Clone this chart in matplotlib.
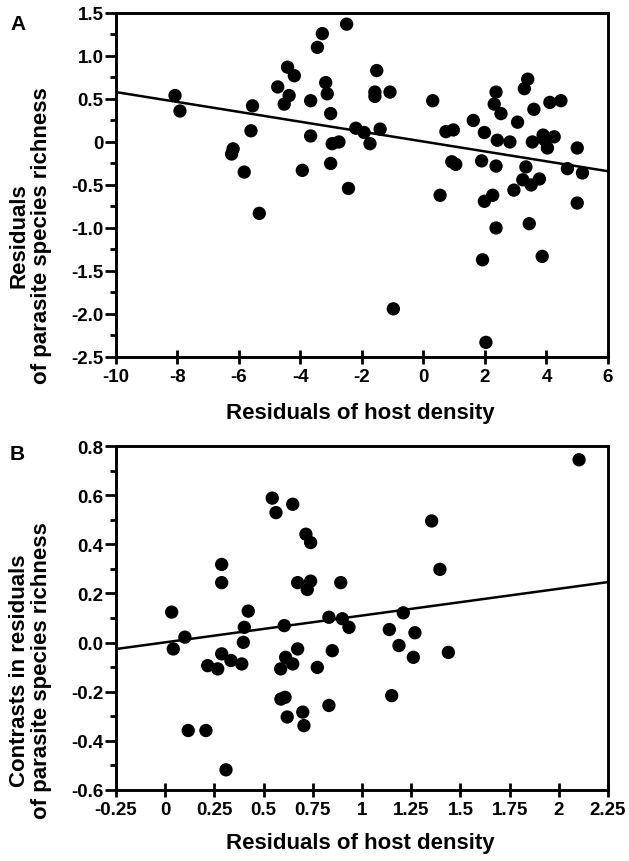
import matplotlib
matplotlib.use('Agg')
import matplotlib.pyplot as plt
from matplotlib.ticker import MultipleLocator
import numpy as np

plt.rcParams['font.family'] = ['Liberation Sans', 'DejaVu Sans']
plt.rcParams['font.weight'] = 'bold'
plt.rcParams['axes.unicode_minus'] = False

# panel A: residuals of host density vs residuals of parasite species richness
a_x = [-8.08, -7.92, -5.56, -5.61, -6.19, -6.24, -5.83, -4.74, -4.42, -4.20,
       -4.37, -4.53, -3.67, -3.67, -3.94, -3.45, -3.29, -2.50, -3.18, -3.13,
       -3.02, -2.97, -2.75, -3.02, -2.44, -2.20, -1.93, -1.74, -1.52, -1.58,
       -1.58, -1.09, 0.30, -1.41, 0.73, 0.97, 0.92, 1.05, 1.62, 1.98,
       2.36, 2.30, 2.52, 2.40, 2.81, 1.89, 2.36, 3.06, 3.39, 3.28,
       3.59, 4.11, 4.47, 3.54, 3.89, 4.25, 4.03, 5.00, 3.33, 4.68,
       5.17, 3.23, 3.50, 3.77, 2.94, 0.54, 2.25, 1.98, 5.00, 2.36,
       3.44, 1.92, 3.86, -0.98, 2.03, -5.34, 3.95]
a_y = [0.54, 0.36, 0.42, 0.13, -0.08, -0.14, -0.35, 0.64, 0.87, 0.77,
       0.54, 0.44, 0.48, 0.07, -0.33, 1.10, 1.26, 1.37, 0.69, 0.56,
       0.33, -0.02, 0.00, -0.25, -0.54, 0.16, 0.11, -0.02, 0.83, 0.58,
       0.53, 0.58, 0.48, 0.15, 0.12, 0.14, -0.23, -0.26, 0.25, 0.11,
       0.58, 0.44, 0.33, 0.02, 0.00, -0.22, -0.28, 0.23, 0.73, 0.62,
       0.38, 0.46, 0.48, 0.00, 0.08, 0.06, -0.07, -0.07, -0.29, -0.31,
       -0.36, -0.44, -0.50, -0.43, -0.56, -0.62, -0.62, -0.69, -0.71, -1.00,
       -0.95, -1.37, -1.33, -1.94, -2.33, -0.83, 0.02]
a_fit = (0.005, -0.0575)  # intercept, slope

# panel B: contrasts
b_x = [0.544, 0.563, 0.648, 0.715, 0.739, 0.287, 0.287, 0.673, 0.739, 0.722,
       0.892, 0.033, 0.422, 0.402, 0.605, 0.832, 0.900, 0.934, 0.100, 0.397,
       0.041, 0.287, 0.216, 0.267, 0.334, 0.389, 0.612, 0.673, 0.648, 0.587,
       0.773, 0.849, 0.588, 0.609, 0.699, 0.620, 0.705, 0.832, 0.117, 0.207,
       0.309, 1.139, 1.269, 1.188, 1.261, 1.439, 1.151, 2.103, 1.354, 1.396,
       1.210]
b_y = [0.588, 0.529, 0.563, 0.441, 0.407, 0.318, 0.244, 0.244, 0.250, 0.216,
       0.244, 0.124, 0.128, 0.062, 0.069, 0.103, 0.097, 0.062, 0.022, 0.001,
       -0.026, -0.046, -0.094, -0.107, -0.073, -0.087, -0.060, -0.026, -0.087, -0.107,
       -0.101, -0.033, -0.230, -0.223, -0.283, -0.303, -0.338, -0.256, -0.358, -0.358,
       -0.518, 0.053, 0.040, -0.012, -0.060, -0.040, -0.216, 0.744, 0.495, 0.298,
       0.121]
b_fit = (0.001, 0.109)

a_yticks = [1.5, 1.0, 0.5, 0, -0.5, -1.0, -1.5, -2.0, -2.5]
a_ylabels = ['1.5', '1.0', '0.5', '0', '-0.5', '-1.0', '-1.5', '-2.0', '-2.5']
a_xticks = [-10, -8, -6, -4, -2, 0, 2, 4, 6]
a_xlabels = ['-10', '-8', '-6', '-4', '-2', '0', '2', '4', '6']
b_yticks = [0.8, 0.6, 0.4, 0.2, 0.0, -0.2, -0.4, -0.6]
b_ylabels = ['0.8', '0.6', '0.4', '0.2', '0.0', '-0.2', '-0.4', '-0.6']
b_xticks = [-0.25, 0, 0.25, 0.5, 0.75, 1, 1.25, 1.5, 1.75, 2, 2.25]
b_xlabels = ['-0.25', '0', '0.25', '0.5', '0.75', '1', '1.25', '1.5', '1.75', '2', '2.25']

TICKFONT = dict(fontsize=13.5, fontweight='bold')
LABELFONT = dict(fontsize=16, fontweight='bold')


def style(ax):
  for side in ['left', 'bottom', 'top', 'right']:
    ax.spines[side].set_linewidth(2.1)
  ax.tick_params(axis='y', which='major', direction='out', length=8, width=2, pad=1)
  ax.tick_params(axis='y', which='minor', direction='out', length=4, width=2)
  ax.tick_params(axis='x', which='major', direction='inout', length=10, width=2, pad=3)
  ax.tick_params(top=False, right=False)


def panel(ax, xs, ys, fit, xlim, ylim):
  ax.scatter(xs, ys, s=92, c='black', edgecolors='none', zorder=3)
  lx = np.array(xlim)
  ax.plot(lx, fit[0] + fit[1] * lx, color='black', lw=1.8, zorder=2)
  ax.set_xlim(xlim)
  ax.set_ylim(ylim)


fig = plt.figure(figsize=(6.29, 8.62), dpi=100)
ax1 = fig.add_axes([0.1844, 0.5847, 0.7822, 0.3991])
ax2 = fig.add_axes([0.1844, 0.0824, 0.7822, 0.3990])

panel(ax1, a_x, a_y, a_fit, (-10, 6), (-2.5, 1.5))
ax1.set_yticks(a_yticks)
ax1.set_yticklabels(a_ylabels, **TICKFONT)
ax1.yaxis.set_minor_locator(MultipleLocator(0.25))
ax1.set_xticks(a_xticks)
ax1.set_xticklabels(a_xlabels, **TICKFONT)
style(ax1)
ax1.set_xlabel('Residuals of host density', va='center', **LABELFONT)
ax1.xaxis.set_label_coords(0.497, -0.162)
ax1.set_ylabel('Residuals\nof parasite species richness', linespacing=1.1,
               va='center', ha='center', **LABELFONT)
ax1.yaxis.set_label_coords(-0.174, 0.355)

panel(ax2, b_x, b_y, b_fit, (-0.25, 2.25), (-0.6, 0.8))
ax2.set_yticks(b_yticks)
ax2.set_yticklabels(b_ylabels, **TICKFONT)
ax2.yaxis.set_minor_locator(MultipleLocator(0.1))
ax2.set_xticks(b_xticks)
ax2.set_xticklabels(b_xlabels, **TICKFONT)
style(ax2)
ax2.set_xlabel('Residuals of host density', va='center', **LABELFONT)
ax2.xaxis.set_label_coords(0.497, -0.152)
ax2.set_ylabel('Contrasts in residuals\nof parasite species richness', linespacing=1.1,
               va='center', ha='center', **LABELFONT)
ax2.yaxis.set_label_coords(-0.174, 0.35)

fig.text(0.016, 0.9716, 'A', fontsize=15, fontweight='bold', va='center')
fig.text(0.016, 0.4727, 'B', fontsize=15, fontweight='bold', va='center')

fig.savefig('out.png', dpi=100)
